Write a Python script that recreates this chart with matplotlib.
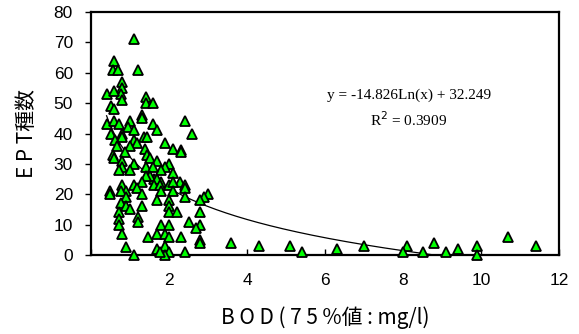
import numpy as np
import matplotlib
matplotlib.use("Agg")
import matplotlib.pyplot as plt

# BOD (75% value, mg/l)
bod = [1.1, 0.6, 0.57, 0.7, 1.2, 0.8, 0.8, 0.78, 0.8, 0.4,
       0.6, 0.5, 0.6, 1.4, 1.4, 1.6, 1.3, 1.3, 0.4, 0.6,
       0.73, 1.0, 0.96, 1.1, 1.6, 1.7, 2.4, 2.6, 0.5, 0.8,
       0.8, 1.35, 1.43, 1.1, 1.17, 0.62, 0.67, 1.0, 1.9, 2.1,
       2.3, 2.3, 1.38, 1.44, 0.87, 0.57, 0.6, 1.5, 1.7, 0.8,
       2.0, 1.9, 1.4, 1.1, 0.8, 0.73, 1.0, 1.8, 1.6, 1.62,
       1.5, 1.41, 2.1, 1.8, 1.68, 1.62, 1.77, 2.0, 2.28, 2.4,
       2.1, 1.3, 0.8, 1.1, 1.17, 0.9, 0.78, 0.49, 0.49, 1.32,
       1.8, 2.1, 2.4, 2.4, 3.0, 2.9, 2.8, 1.68, 2.0, 2.0,
       0.9, 0.77, 0.9, 1.3, 1.0, 0.73, 2.0, 2.2, 2.8, 0.73,
       1.2, 0.73, 2.5, 1.2, 1.8, 2.0, 2.8, 2.7, 0.8, 1.47,
       1.68, 1.9, 2.0, 2.3, 2.8, 2.8, 1.9, 1.68, 0.9, 2.0,
       2.4, 1.1, 1.9, 1.77, 3.6, 4.3, 5.1, 5.4, 6.3, 7.0,
       8.1, 8.0, 8.5, 8.8, 9.1, 9.4, 9.9, 9.9, 10.7, 11.4]

# number of EPT taxa
ept = [71, 64, 61, 61, 61, 57, 55, 53, 51, 53,
       54, 49, 48, 52, 50, 50, 46, 45, 43, 44,
       43, 44, 42, 41, 43, 41, 44, 40, 40, 40,
       39, 39, 39, 38, 37, 38, 36, 36, 37, 35,
       34.5, 34, 35, 33, 34, 33, 32, 32, 31, 31,
       30, 29, 29, 30, 29, 28, 28, 28, 29, 25,
       26, 26, 27, 24, 25, 23, 23, 23, 24, 23,
       24, 24, 23, 23, 22, 21, 21, 21, 20, 20,
       21, 21, 22, 19, 20, 19, 18, 18, 18, 16,
       19, 17, 16, 16, 15, 14, 14, 14, 14, 12,
       12.5, 10, 11, 11, 10, 10, 10, 9, 7, 6,
       7, 7, 6, 6, 5, 4, 3, 2, 2.5, 1,
       1, 0, 0, 1, 4, 3, 3, 1, 2, 3,
       3, 1, 1, 4, 1, 2, 3, 0, 6, 3]

# trend line coefficients: y = a*ln(x) + b
coef_a = -14.826
coef_b = 32.249
trend_text = "y = -14.826Ln(x) + 32.249"
r2_text = "R$^2$ = 0.3909"

xticks = [0, 2, 4, 6, 8, 10, 12]
xticklabels = ["", "2", "4", "6", "8", "10", "12"]
yticks = [0, 10, 20, 30, 40, 50, 60, 70, 80]

plt.rcParams['font.family'] = ['Liberation Sans', 'DejaVu Sans']

fig = plt.figure(figsize=(5.79, 3.34), dpi=100)
ax = fig.add_axes([91/579, 1-255/334, (559-91)/579, (255-12)/334])

# trend curve (clipped at y >= 0)
x_end = np.exp(-coef_b / coef_a)
xc = np.linspace(0.4, x_end, 300)
yc = coef_a * np.log(xc) + coef_b
ax.plot(xc, yc, color='black', lw=0.9, zorder=2)

ax.plot(bod, ept, linestyle='none', marker='^', markersize=6.8,
        markerfacecolor='#00FF00', markeredgecolor='black', markeredgewidth=1.3,
        clip_on=False, zorder=3)

ax.set_xlim(0, 12)
ax.set_ylim(0, 80)
ax.set_xticks(xticks)
ax.set_xticklabels(xticklabels)
ax.set_yticks(yticks)
ax.tick_params(axis='x', direction='in', length=4, width=1, labelsize=12.5, pad=13)
ax.tick_params(axis='y', direction='out', length=4, width=1, labelsize=12.5, pad=9)
for s in ax.spines.values():
    s.set_linewidth(1.6)

jp = ['Noto Sans CJK JP', 'DejaVu Sans']
ax.set_ylabel("E P T種数", fontsize=15, family=jp, labelpad=11)
ax.set_xlabel("B O D ( 7 5 %値 : mg/l)", fontsize=15, family=jp, labelpad=13)

ax.text(409/579, 1-95/334, trend_text, transform=fig.transFigure,
        ha='center', va='center', fontsize=11, family='Liberation Serif')
ax.text(409/579, 1-120/334, r2_text, transform=fig.transFigure,
        ha='center', va='center', fontsize=11, family='Liberation Serif')

fig.savefig("out.png", dpi=100)
